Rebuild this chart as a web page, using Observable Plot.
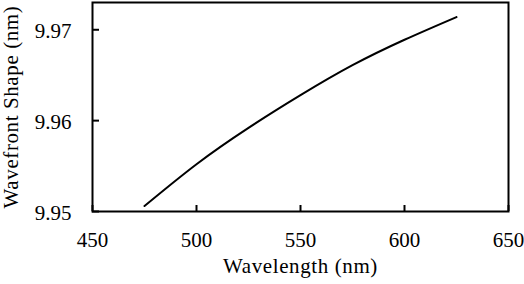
<!DOCTYPE html>
<html>
<head>
<meta charset="utf-8">
<script src="https://cdn.jsdelivr.net/npm/d3@7"></script>
<script src="https://cdn.jsdelivr.net/npm/@observablehq/plot@0.6"></script>
<style>
  html, body { margin: 0; padding: 0; background: #fff; }
  #chart svg { display: block; }
</style>
</head>
<body>
<div id="chart"></div>
<script>
const wavelengths = [475, 500, 525, 550, 575, 600, 625];
const wavefront = [9.9506, 9.9552, 9.9592, 9.9628, 9.9661, 9.9689, 9.9714];
const xTicks = [450, 500, 550, 600, 650];
const yTicks = [9.95, 9.96, 9.97];
const xLabel = "Wavelength (nm)";
const yLabel = "Wavefront Shape (nm)";

const data = wavelengths.map((w, i) => ({w, v: wavefront[i]}));

const chart = Plot.plot({
  width: 524,
  height: 284,
  marginLeft: 92,
  marginRight: 16,
  marginTop: 2,
  marginBottom: 73,
  style: {fontSize: "21px", color: "#000", background: "#fff"},
  x: {domain: [450, 650]},
  y: {domain: [9.95, 9.973]},
  marks: [
    Plot.axisX({ticks: xTicks, tickSize: 0, tickPadding: 21, tickFormat: d3.format("d"), label: null, fill: "#000"}),
    Plot.axisY({ticks: yTicks, tickSize: 0, tickPadding: 21, tickFormat: d3.format(".2f"), label: null, fill: "#000", dy: 2}),
    Plot.tickX(xTicks, {x: d => d, insetTop: 203, stroke: "#000", strokeWidth: 2}),
    Plot.tickY(yTicks, {y: d => d, insetRight: 409, stroke: "#000", strokeWidth: 2}),
    Plot.line(data, {x: "w", y: "v", curve: "natural", stroke: "#000", strokeWidth: 2}),
    Plot.frame({stroke: "#000", strokeWidth: 2}),
    Plot.text([xLabel], {text: d => d, frameAnchor: "bottom", textAnchor: "middle", dy: 55, lineAnchor: "middle", fill: "#000"}),
    Plot.text([yLabel], {text: d => d, frameAnchor: "left", textAnchor: "middle", dx: -81, rotate: -90, lineAnchor: "middle", fill: "#000"})
  ]
});

const svg = d3.select(chart);
svg.attr("font-family", "Liberation Serif").style("font-family", "'Liberation Serif', serif", "important");
svg.selectAll("g").attr("font-family", null);
svg.selectAll("text")
  .attr("font-family", "Liberation Serif")
  .style("font-family", "'Liberation Serif', serif", "important")
  .style("font-size", "21px")
  .each(function() {
    const t = this.textContent;
    if (t === xLabel || t === yLabel) d3.select(this).attr("letter-spacing", "0.6px");
  });

document.getElementById("chart").appendChild(chart);
</script>
</body>
</html>
